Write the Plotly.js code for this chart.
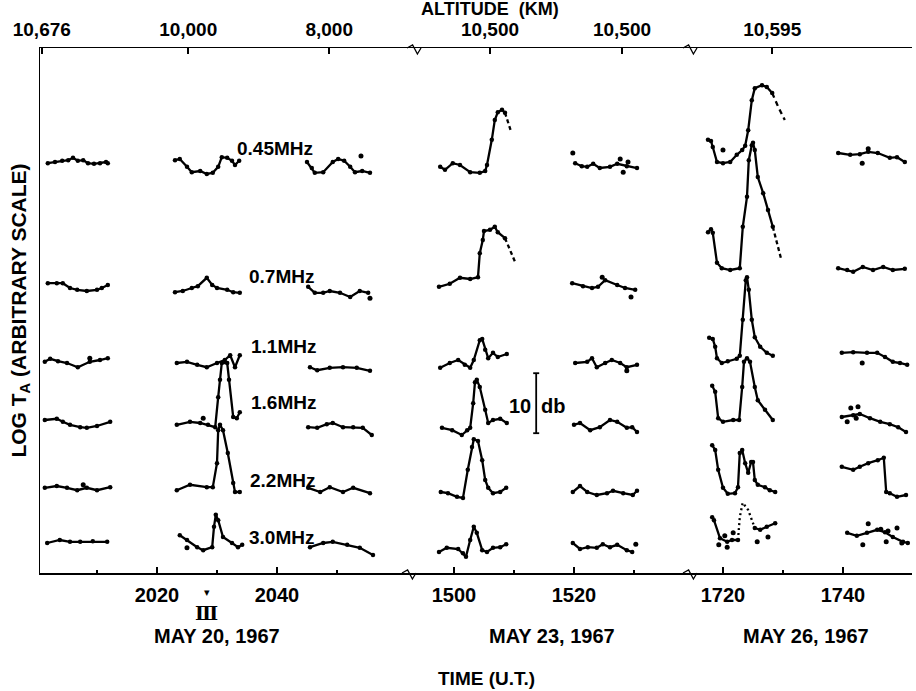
<!DOCTYPE html>
<html>
<head>
<meta charset="utf-8">
<script src="https://cdn.plot.ly/plotly-3.0.1.min.js"></script>
<style>html,body{margin:0;padding:0;background:#fff;}#chart{width:916px;height:691px;}</style>
</head>
<body>
<div id="chart"></div>
<script>
// ---- Data: time (HHMM-style minutes, U.T.) and relative level (dB, arbitrary offset) ----
// null separates the observation windows of a day.
// 0.45 MHz
const t045_p1 = [2001.8,2003.0,2004.2,2005.2,2006.0,2006.8,2007.7,2008.5,2009.5,2010.5,2011.5,2011.8,null,
  2023.0,2023.8,2025.0,2025.8,2027.2,2028.3,2029.3,2030.2,2030.8,2031.7,2032.5,2033.0,2033.7,null,
  2045.0,2045.8,2046.3,2047.7,2049.3,2050.2,2051.2,2052.2,2053.0,2054.2,2055.5];
const v045_p1 = [68.3,68.5,68.7,68.8,69.2,68.7,68.8,68.3,68.2,68.3,68.5,68.3,null,
  68.8,69.0,67.7,66.8,67.0,66.5,66.7,67.7,69.3,69.2,68.7,68.0,68.7,null,
  68.5,67.5,66.7,66.8,68.5,69.0,68.7,67.7,66.8,67.0,66.7];
const t045_p2 = [1497.7,1498.5,1499.8,1501.0,1502.7,1504.3,1505.2,1505.5,1506.3,1506.8,1507.3,1508.0,1508.5,null,
  1520.2,1521.3,1522.2,1523.2,1524.3,1526.0,1527.2,1528.8,1530.5];
const v045_p2 = [67.7,67.2,68.3,68.0,66.8,66.7,67.0,68.0,72.2,75.5,76.8,77.2,76.7,null,
  68.3,67.8,67.7,68.2,67.5,67.7,68.2,67.8,67.5];
const t045_p2_dash = [1508.5,1509.0,1509.5];
const v045_p2_dash = [76.7,75.0,73.6];
const t045_p3 = [1717.5,1718.0,1718.3,1719.0,1720.0,1721.2,1722.3,1723.2,1723.7,1724.2,1724.8,1725.3,1726.5,1727.3,1728.2,null,
  1739.2,1741.2,1742.8,1744.2,1745.8,1747.8,1749.0,1750.3];
const v045_p3 = [72.2,72.0,71.0,68.5,68.3,68.5,69.7,70.5,71.2,73.8,78.8,80.8,81.3,81.0,80.0,null,
  70.0,69.7,69.8,70.2,70.0,69.2,69.3,68.5];
const t045_p3_dash = [1728.2,1729.2,1730.3];
const v045_p3_dash = [80.0,77.7,75.5];

// 0.7 MHz
const t07_p1 = [2001.8,2003.3,2004.3,2005.5,2006.7,2008.3,2010.0,2010.8,2011.8,null,
  2023.0,2024.3,2025.8,2026.8,2028.3,2029.2,2030.0,2031.7,2032.7,2033.8,null,
  2045.2,2046.3,2047.7,2048.8,2050.5,2052.2,2053.8,2055.2];
const v07_p1 = [48.3,48.3,48.3,47.5,47.2,47.0,47.2,47.5,48.0,null,
  46.8,47.0,47.5,47.8,49.2,48.0,47.5,47.2,46.8,46.7,null,
  47.7,46.7,46.7,47.0,46.7,46.0,47.0,46.7];
const t07_p2 = [1497.5,1499.3,1501.0,1502.7,1504.0,1504.3,1504.8,1505.0,1506.0,1506.8,1507.3,1508.5,null,
  1519.7,1521.5,1523.0,1524.0,1525.2,1527.2,1528.5,1530.2];
const v07_p2 = [47.7,48.2,49.2,49.0,49.3,53.3,55.5,57.0,57.2,57.7,56.8,55.8,null,
  48.3,47.8,47.5,47.7,48.8,48.0,47.5,47.2];
const t07_p2_dash = [1508.5,1509.3,1510.2];
const v07_p2_dash = [55.8,53.8,51.8];
const t07_p3 = [1717.5,1718.0,1718.3,1719.0,1719.8,1721.2,1722.8,1723.3,1724.0,1724.3,1724.8,1725.0,1725.3,1725.8,1726.7,1727.5,1728.3,null,
  1739.2,1740.7,1741.7,1743.3,1745.0,1746.7,1748.3,1750.3];
const v07_p3 = [56.8,57.3,56.7,51.7,50.8,50.5,50.8,57.7,62.7,68.8,71.3,71.7,70.5,66.0,63.3,60.5,57.7,null,
  50.8,50.5,50.2,51.0,50.5,51.0,50.5,50.7];
const t07_p3_dash = [1728.3,1729.0,1729.7];
const v07_p3_dash = [57.7,54.8,52.3];

// 1.1 MHz
const t11_p1 = [2001.3,2002.2,2003.5,2005.0,2006.8,2008.8,2010.5,2011.8,null,
  2023.3,2025.0,2026.7,2028.3,2030.0,2031.3,2032.2,2033.0,2033.8,null,
  2045.5,2046.7,2048.8,2051.0,2053.3,2055.5];
const v11_p1 = [35.2,35.7,35.3,35.0,34.3,35.2,35.5,35.8,null,
  35.0,35.2,34.7,34.3,35.0,35.5,36.3,34.3,36.3,null,
  34.3,33.8,34.2,34.3,34.2,33.7];
const t11_p2 = [1497.7,1499.3,1500.7,1501.8,1502.7,1503.3,1504.3,1504.7,1505.2,1505.7,1506.5,1507.3,1508.8,null,
  1520.2,1522.2,1523.0,1523.8,1525.2,1526.3,1527.7,1528.8,1530.5];
const v11_p2 = [34.2,35.0,35.5,34.7,34.2,35.5,38.8,39.0,37.2,35.8,36.7,36.0,36.5,null,
  35.0,35.2,35.8,34.3,35.0,35.5,35.0,34.3,34.7];
const t11_p3 = [1717.7,1718.3,1718.7,1719.0,1719.8,1720.8,1722.3,1722.8,1723.3,1723.8,1724.0,1724.3,1724.8,1725.3,1726.2,1727.3,1728.3,null,
  1739.8,1741.7,1744.0,1745.7,1747.0,1748.3,1749.5,1750.7];
const v11_p3 = [39.2,39.0,37.7,35.8,35.0,35.3,35.7,36.2,42.2,48.8,49.3,47.2,42.2,39.3,37.7,36.7,36.2,null,
  36.7,36.8,36.7,36.7,36.0,35.2,35.0,34.7];

// 1.6 MHz
const t16_p1 = [2001.3,2003.3,2004.3,2005.5,2007.2,2008.3,2010.0,2012.2,null,
  2023.3,2025.5,2027.2,2028.5,2029.7,2030.2,2030.5,2030.8,2031.7,2032.0,2032.7,2033.3,2033.8,null,
  2045.2,2046.7,2048.3,2049.3,2051.0,2052.7,2054.3,2055.8];
const v16_p1 = [25.5,25.7,25.2,24.7,24.3,24.2,24.5,25.2,null,
  24.7,25.2,25.0,24.7,24.3,29.3,32.2,35.0,35.0,32.2,26.0,25.8,26.8,null,
  24.3,24.2,24.8,25.0,24.3,24.3,24.2,23.0];
const t16_p2 = [1498.0,1499.7,1501.3,1502.2,1502.7,1503.2,1503.5,1503.8,1504.3,1505.2,1505.7,1506.5,1507.7,1508.8,null,
  1520.0,1521.0,1522.7,1524.3,1526.0,1527.2,1528.8,1529.7,1530.5];
const v16_p2 = [24.2,23.8,23.0,23.8,24.2,28.3,31.8,32.2,31.0,27.2,25.0,25.5,25.7,25.0,null,
  24.7,25.0,23.8,24.3,25.5,25.2,24.2,24.3,23.5];
const t16_p3 = [1718.2,1718.7,1719.2,1720.0,1721.7,1722.7,1723.2,1723.5,1724.0,1724.5,1725.3,1725.8,1727.0,1728.3,null,
  1739.8,1741.7,1742.8,1744.5,1746.2,1747.8,1749.2,1750.5];
const v16_p3 = [31.2,30.2,25.8,25.2,25.5,25.5,31.0,35.2,35.8,35.2,31.0,28.8,27.2,25.5,null,
  26.0,26.3,26.5,25.8,25.2,24.8,24.3,23.5];

// 2.2 MHz
const t22_p1 = [2001.3,2003.3,2005.0,2006.7,2008.3,2010.0,2012.2,null,
  2023.3,2025.5,2028.3,2029.3,2030.0,2030.2,2030.5,2031.0,2031.8,2032.7,2033.0,2033.8,null,
  2045.2,2047.2,2048.8,2051.0,2052.7,2055.5];
const v22_p1 = [14.2,14.5,14.2,13.8,14.2,13.8,14.3,null,
  13.8,14.7,14.3,14.3,18.3,23.8,24.7,23.8,20.0,15.0,13.5,13.5,null,
  14.2,13.5,14.3,13.5,14.2,13.3];
const t22_p2 = [1497.8,1499.0,1500.5,1501.5,1502.3,1503.0,1503.3,1504.0,1504.7,1505.2,1505.7,1506.5,1507.7,1508.7,null,
  1519.8,1521.0,1522.2,1523.8,1525.5,1526.5,1528.2,1529.8,1530.5];
const v22_p2 = [13.5,13.3,12.7,12.5,17.2,21.0,22.3,22.0,18.8,15.5,14.2,13.3,13.5,14.2,null,
  13.5,14.5,13.5,13.0,13.3,13.7,13.3,13.0,13.7];
const t22_p3 = [1718.2,1718.7,1719.2,1720.0,1720.8,1722.0,1722.5,1722.8,1723.2,1723.7,1724.2,1724.7,1725.0,1725.3,1725.8,1727.0,1727.8,1728.7,null,
  1739.8,1741.7,1742.8,1744.2,1745.8,1746.8,1747.2,1747.8,1749.0,1750.5];
const v22_p3 = [21.3,20.5,17.2,14.2,13.2,13.3,14.3,20.0,20.5,18.3,16.7,18.5,18.5,15.5,14.7,14.3,13.8,13.5,null,
  17.7,17.2,17.7,18.3,18.8,19.2,13.5,13.3,12.7,13.0];

// 3.0 MHz
const t30_p1 = [2001.7,2003.8,2005.5,2007.2,2009.3,2011.7,null,
  2023.8,2025.0,2026.7,2027.7,2029.2,2029.5,2029.8,2030.2,2031.0,2032.5,2033.5,2034.2,null,
  2045.5,2047.7,2049.3,2051.7,2053.8,2056.0];
const v30_p1 = [5.0,5.5,5.2,5.2,5.3,5.2,null,
  6.3,5.5,4.3,3.8,4.3,7.7,9.7,8.8,6.0,5.0,4.3,4.7,null,
  4.3,5.0,5.2,4.7,4.2,3.0];
const t30_p2 = [1497.5,1498.8,1500.7,1501.5,1502.0,1502.7,1503.3,1503.8,1504.7,1505.5,1506.5,1507.7,1508.7,null,
  1519.8,1521.0,1522.3,1523.8,1524.8,1526.0,1527.2,1528.8,1529.7];
const v30_p2 = [3.5,4.2,4.0,3.3,2.7,5.5,7.7,6.7,3.8,3.5,4.2,4.3,4.8,null,
  5.0,4.0,4.3,4.2,4.8,4.3,4.7,3.8,3.5];
const t30_p3 = [1718.2,1718.5,1719.5,1720.7,1721.5,1722.5,null,
  1725.3,1726.2,1727.3,1728.7,null,
  1740.7,1742.3,1744.0,1745.7,1747.0,1748.3,1750.0,1750.8];
const v30_p3 = [9.3,8.8,5.8,5.2,5.5,5.5,null,
  7.5,7.2,7.7,8.3,null,
  6.7,6.2,6.7,7.2,6.8,6.0,5.2,5.0];
const t30_p3_dot = [1722.5,1722.8,1723.2,1723.3,1724.2,1724.8,1725.3];
const v30_p3_dot = [5.5,9.3,11.3,11.7,10.5,8.8,7.5];

// Individual off-curve readings
const dots_p1_t = [2054.0,2055.5,2008.8,2027.7,2007.7,2025.0];
const dots_p1_v = [69.5,45.8,35.8,25.8,14.7,4.2];
const dots_p2_t = [1519.8,1527.7,1528.2,1529.0,1524.7,1529.5,1528.8,1530.3];
const dots_p2_v = [70.0,69.0,66.8,68.5,49.3,46.0,33.7,4.8];
const dots_p3_t = [1720.0,1743.2,1744.2,1743.2,1741.3,1742.5,1740.7,1742.2,
  1719.3,1720.7,1720.3,1721.7,1725.7,1727.5,1743.3,1744.2,1746.3,1747.5,1749.0,1747.2,1749.8];
const dots_p3_v = [70.5,68.3,70.7,35.0,27.5,27.7,25.2,25.8,
  4.7,4.3,6.2,6.7,5.2,6.0,4.7,8.2,7.3,7.0,7.5,5.2,5.0];

const freqLabels = ['0.45MHz','0.7MHz','1.1MHz','1.6MHz','2.2MHz','3.0MHz'];
const freqLabelLevel = [70.8,49.5,37.8,28.5,15.5,6.0];
const freqLabelTime = [2033.0,2035.0,2035.3,2035.3,2035.1,2035.0];

const bottomTicks = {x:[2020,2040], x2:[1500,1520], x3:[1720,1740]};
const bottomMinor = {x:[2010,2030,2050], x2:[1510,1530], x3:[1730]};
const altitudeTimes = {x:[2000.8,2025.2,2048.7], x2:[1506.0,1528.0], x3:[1728.2]};
const altitudeText = {x:['10,676','10,000','8,000'], x2:['10,500','10,500'], x3:['10,595']};
const dayLabels = ['MAY 20, 1967','MAY 23, 1967','MAY 26, 1967'];
const dayLabelTime = [2030.0,1516.3,1733.8];

// ---- Traces ----
const traces = [];
function line(t, v, ax, dash) {
  traces.push({x:t, y:v, xaxis:ax, yaxis:'y', type:'scatter',
    mode: dash ? 'lines' : 'lines+markers', connectgaps:false, cliponaxis:false,
    line:{color:'#000', width:2.3, dash: dash || 'solid'},
    marker:{color:'#000', size:4.5}, hoverinfo:'skip', showlegend:false});
}
function pts(t, v, ax) {
  traces.push({x:t, y:v, xaxis:ax, yaxis:'y', type:'scatter', mode:'markers', cliponaxis:false,
    marker:{color:'#000', size:5}, hoverinfo:'skip', showlegend:false});
}
line(t045_p1, v045_p1, 'x'); line(t045_p2, v045_p2, 'x2'); line(t045_p3, v045_p3, 'x3');
line(t045_p2_dash, v045_p2_dash, 'x2', '4px,3px'); line(t045_p3_dash, v045_p3_dash, 'x3', '5px,4px');
line(t07_p1, v07_p1, 'x'); line(t07_p2, v07_p2, 'x2'); line(t07_p3, v07_p3, 'x3');
line(t07_p2_dash, v07_p2_dash, 'x2', '4px,3px'); line(t07_p3_dash, v07_p3_dash, 'x3', '4px,3px');
line(t11_p1, v11_p1, 'x'); line(t11_p2, v11_p2, 'x2'); line(t11_p3, v11_p3, 'x3');
line(t16_p1, v16_p1, 'x'); line(t16_p2, v16_p2, 'x2'); line(t16_p3, v16_p3, 'x3');
line(t22_p1, v22_p1, 'x'); line(t22_p2, v22_p2, 'x2'); line(t22_p3, v22_p3, 'x3');
line(t30_p1, v30_p1, 'x'); line(t30_p2, v30_p2, 'x2'); line(t30_p3, v30_p3, 'x3');
line(t30_p3_dot, v30_p3_dot, 'x3', '2px,3px');
pts(dots_p1_t, dots_p1_v, 'x'); pts(dots_p2_t, dots_p2_v, 'x2'); pts(dots_p3_t, dots_p3_v, 'x3');

// invisible carriers so the top (altitude) axes are drawn
[['x4','x'],['x5','x2'],['x6','x3']].forEach(([ax, key]) => traces.push({
  x: altitudeTimes[key], y: altitudeTimes[key].map(() => 87.5), xaxis: ax, yaxis: 'y', type:'scatter',
  mode:'markers', marker:{opacity:0, size:1}, hoverinfo:'skip', showlegend:false}));

// ---- Layout ----
const FONT = 'Liberation Sans, Arial, sans-serif';
const d1 = 370/872, d2 = 651/872;
function bottomAxis(domain, range, key) {
  return {domain:domain, range:range, anchor:'y', showline:true, linecolor:'#000', linewidth:1.5,
    showgrid:false, zeroline:false, ticks:'inside', ticklen:6, tickwidth:1.5, tickcolor:'#000',
    tickmode:'array', tickvals:bottomTicks[key], ticktext:bottomTicks[key].map(String),
    ticklabelstandoff:3,
    minor:{tickmode:'array', tickvals:bottomMinor[key], ticks:'inside', ticklen:3, tickwidth:1.5, tickcolor:'#000'},
    tickfont:{family:FONT, size:20, color:'#000', weight:'bold'}, fixedrange:true};
}
function topAxis(over, range, key) {
  return {overlaying:over, side:'top', anchor:'y', range:range, showline:true, linecolor:'#000', linewidth:1.2,
    showgrid:false, zeroline:false, ticks:'inside', ticklen:6, tickwidth:1.5, tickcolor:'#000',
    tickmode:'array', tickvals:altitudeTimes[key], ticktext:altitudeText[key], ticklabelstandoff:3,
    tickfont:{family:FONT, size:19, color:'#000', weight:'bold'}, fixedrange:true};
}
const r1 = [2000.5, 2062.17], r2 = [1492.67, 1539.5], r3 = [1714.67, 1751.5];

const annotations = [];
freqLabels.forEach((s, i) => annotations.push({text:s, xref:'x', yref:'y', x:freqLabelTime[i], y:freqLabelLevel[i],
  xanchor:'left', yanchor:'middle', showarrow:false, font:{family:FONT, size:19, color:'#000', weight:'bold'}}));
const dayAxes = ['x','x2','x3'];
dayLabels.forEach((s, i) => annotations.push({text:s, xref:dayAxes[i], yref:'paper', x:dayLabelTime[i], y:-0.12,
  xanchor:'center', yanchor:'middle', showarrow:false, font:{family:FONT, size:20, color:'#000', weight:'bold'}}));
annotations.push({text:'TIME (U.T.)', xref:'x2', yref:'paper', x:1505.5, y:-0.2, xanchor:'center', yanchor:'middle',
  showarrow:false, font:{family:FONT, size:19, color:'#000', weight:'bold'}});
annotations.push({text:'ALTITUDE  (KM)', xref:'paper', yref:'paper', x:0.516, y:1.075, xanchor:'center', yanchor:'middle',
  showarrow:false, font:{family:FONT, size:18, color:'#000', weight:'bold'}});
annotations.push({text:'Ⅲ', xref:'x', yref:'paper', x:2028.3, y:-0.076, xanchor:'center', yanchor:'middle',
  showarrow:false, font:{family:'DejaVu Serif, serif', size:19, color:'#000', weight:'bold'}});
annotations.push({text:'▾', xref:'x', yref:'paper', x:2028.3, y:-0.038, xanchor:'center', yanchor:'middle',
  showarrow:false, font:{family:'DejaVu Sans, sans-serif', size:11, color:'#000'}});
annotations.push({text:'10', xref:'x2', yref:'y', x:1513.2, y:27.8, xanchor:'right', yanchor:'middle',
  showarrow:false, font:{family:FONT, size:20, color:'#000', weight:'bold'}});
annotations.push({text:'db', xref:'x2', yref:'y', x:1514.2, y:27.8, xanchor:'left', yanchor:'middle',
  showarrow:false, font:{family:FONT, size:20, color:'#000', weight:'bold'}});

// scale bar (10 dB) and axis-break marks
const shapes = [
  {type:'line', xref:'x2', yref:'y', x0:1513.7, x1:1513.7, y0:23.3, y1:33.3, line:{color:'#000', width:1.8}},
  {type:'line', xref:'x2', yref:'y', x0:1513.2, x1:1514.2, y0:33.3, y1:33.3, line:{color:'#000', width:1.8}},
  {type:'line', xref:'x2', yref:'y', x0:1513.2, x1:1514.2, y0:23.3, y1:23.3, line:{color:'#000', width:1.8}}
];
function brk(xp, yp) {
  const w = 4/872, h = 1/525;
  return {type:'path', xref:'paper', yref:'paper', line:{color:'#000', width:1.3},
    path:`M ${xp-2*w},${yp} L ${xp-0.6*w},${yp+3*h} L ${xp+0.6*w},${yp-6*h} L ${xp+1.5*w},${yp}`};
}
shapes.push(brk(d1, 0), brk(d2, 0), brk(375/872, 1), brk(d2, 1));

const layout = {
  width:916, height:691, paper_bgcolor:'#fff', plot_bgcolor:'#fff', showlegend:false,
  margin:{l:40, r:4, t:48, b:118},
  font:{family:FONT, color:'#000'},
  xaxis: bottomAxis([0, d1], r1, 'x'),
  xaxis2: bottomAxis([d1, d2], r2, 'x2'),
  xaxis3: bottomAxis([d2, 1], r3, 'x3'),
  xaxis4: topAxis('x', r1, 'x'),
  xaxis5: topAxis('x2', r2, 'x2'),
  xaxis6: topAxis('x3', r3, 'x3'),
  yaxis: {range:[0, 87.5], showline:true, linecolor:'#000', linewidth:1.5, showgrid:false, zeroline:false,
    ticks:'', showticklabels:false, fixedrange:true,
    title:{text:'LOG T<sub>A</sub> (ARBITRARY SCALE)', standoff:6, font:{family:FONT, size:21, color:'#000', weight:'bold'}}},
  annotations: annotations,
  shapes: shapes
};

Plotly.newPlot('chart', traces, layout, {staticPlot:true, displayModeBar:false});
</script>
</body>
</html>
